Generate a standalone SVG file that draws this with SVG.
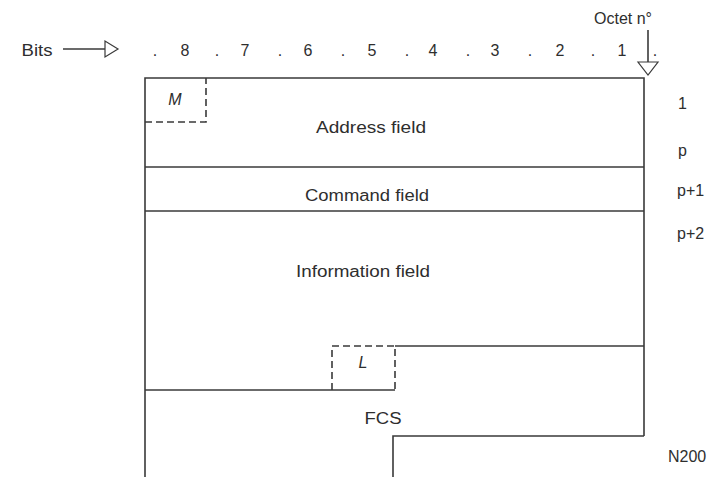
<svg xmlns="http://www.w3.org/2000/svg" width="726" height="477" viewBox="0 0 726 477">
<style>
text{font-family:"Liberation Sans",Arial,sans-serif;fill:#2e2e2e;font-size:16px}
.c{text-anchor:middle}
.ln{stroke:#3a3a3a;stroke-width:1.6;fill:none}
.ds{stroke:#3a3a3a;stroke-width:1.6;fill:none;stroke-dasharray:7,4}
.hd{stroke:#3a3a3a;stroke-width:1.2;fill:#fff}
</style>
<rect width="726" height="477" fill="#fff"/>
<g id="header">
<text x="37" y="56" class="c" textLength="31" lengthAdjust="spacingAndGlyphs">Bits</text>
<text x="623" y="24" class="c" font-size="15">Octet n°</text>
<g>
<text x="155" y="56" class="c">.</text><text x="185" y="56" class="c">8</text>
<text x="217" y="56" class="c">.</text><text x="245" y="56" class="c">7</text>
<text x="280" y="56" class="c">.</text><text x="308" y="56" class="c">6</text>
<text x="343" y="56" class="c">.</text><text x="372" y="56" class="c">5</text>
<text x="407" y="56" class="c">.</text><text x="433" y="56" class="c">4</text>
<text x="468" y="56" class="c">.</text><text x="495" y="56" class="c">3</text>
<text x="530" y="56" class="c">.</text><text x="560" y="56" class="c">2</text>
<text x="593" y="56" class="c">.</text><text x="622" y="56" class="c">1</text>
<text x="655" y="56" class="c">.</text>
</g>
</g>
<g id="connectors">
<line class="ln" x1="63" y1="49" x2="105" y2="49"/>
<polygon class="hd" points="105,41 105,57 118,49"/>
<line class="ln" x1="648" y1="30" x2="648" y2="62"/>
<polygon class="hd" points="638,62 658,62 648,75"/>
</g>
<g id="address">
<path class="ln" d="M145,477 V78 H644 V436"/>
<path class="ds" d="M145,122 H206 V78"/>
<text x="175" y="105" class="c" font-style="italic" font-size="15">M</text>
<text x="371" y="133" class="c" textLength="110" lengthAdjust="spacingAndGlyphs">Address field</text>
</g>
<g id="command">
<line class="ln" x1="145" y1="167" x2="644" y2="167"/>
<text x="367" y="201" class="c" textLength="124" lengthAdjust="spacingAndGlyphs">Command field</text>
</g>
<g id="information">
<line class="ln" x1="145" y1="211" x2="644" y2="211"/>
<text x="363" y="277" class="c" textLength="134" lengthAdjust="spacingAndGlyphs">Information field</text>
<path class="ln" d="M145,390 H395"/>
<path class="ln" d="M395,346 H644"/>
<path class="ds" d="M332,390 V346 H395 V390"/>
<text x="363" y="368" class="c" font-style="italic" font-size="15">L</text>
</g>
<g id="fcs">
<path class="ln" d="M393,477 V436 H644"/>
<text x="383" y="424" class="c" textLength="37" lengthAdjust="spacingAndGlyphs">FCS</text>
</g>
<g id="octets">
<text x="678" y="109" font-size="15">1</text>
<text x="678" y="156" font-size="15">p</text>
<text x="677" y="196" font-size="15">p+1</text>
<text x="677" y="239" font-size="15">p+2</text>
<text x="668" y="462" font-size="15">N200</text>
</g>
</svg>
